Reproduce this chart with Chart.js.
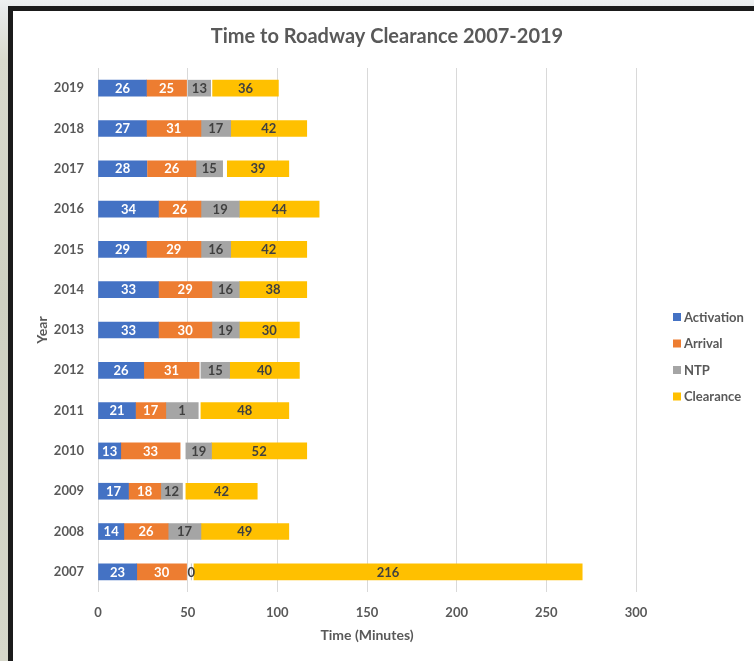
<!DOCTYPE html>
<html>
<head>
<meta charset="utf-8">
<script src="https://cdn.jsdelivr.net/npm/chart.js@4/dist/chart.umd.min.js"></script>
<style>
  html, body { margin: 0; padding: 0; }
  body {
    width: 754px; height: 661px; overflow: hidden; position: relative;
    background: linear-gradient(180deg, #eef0f1 0px, #e9ebec 8px, #d9dacd 60px, #cfd1c2 300px, #d6d7ca 661px);
  }
  #frame {
    position: absolute; left: 8px; top: 6px; width: 760px; height: 670px;
    border-left: 5px solid #1b1b1b; border-top: 5px solid #1b1b1b;
    background: #ffffff;
  }
  #wrap { position: absolute; left: 0; top: 0; width: 741px; height: 650px; }
</style>
</head>
<body>
<div id="frame"><div id="wrap"><canvas id="c" width="741" height="650"></canvas></div></div>
<script>
const years = ['2007','2008','2009','2010','2011','2012','2013','2014','2015','2016','2017','2018','2019'];

// bar extents [start, end] in minutes, as drawn in the picture
const activationBars = [[0,21.6],[0,14.4],[0,17],[0,12.7],[0,20.9],[0,25.5],[0,33.7],[0,33.7],[0,27],[0,33.7],[0,27.2],[0,27],[0,27]];
const arrivalBars = [[21.6,49.4],[14.4,39.1],[17,35],[12.7,45.8],[20.9,37.8],[25.5,56.4],[33.7,63.5],[33.7,63.5],[27,57.4],[33.7,57.4],[27.6,54.6],[27,57.4],[27,49.4]];
const ntpBars = [[52,52],[39.1,57.4],[35,47.1],[49,63.3],[37.8,55.9],[57.4,73.4],[63.5,78.8],[63.5,78.8],[57.4,74],[57.4,78.8],[54.6,69.5],[57.4,74],[50.3,62.8]];
const clearanceBars = [[53.5,270],[57.4,106.4],[49,88.8],[63.3,116.4],[57.4,106.4],[73.4,112.3],[78.8,112.3],[78.8,116.4],[74,116.4],[78.8,123.3],[72.1,106.4],[74,116.4],[63.9,100.6]];

// data labels shown on the bars
const activationLabels = [23,14,17,13,21,26,33,33,29,34,28,27,26];
const arrivalLabels = [30,26,18,33,17,31,30,29,29,26,26,31,25];
const ntpLabels = [0,17,12,19,1,15,19,16,16,19,15,17,13];
const clearanceLabels = [216,49,42,52,48,40,30,38,42,44,39,42,36];

const xTicks = [0,50,100,150,200,250,300];

const seriesNames = ['Activation','Arrival','NTP','Clearance'];
const colors = ['#4472C4','#ED7D31','#A5A5A5','#FFC000'];
const labelColors = ['#ffffff','#ffffff','#404040','#404040'];
const allLabels = [activationLabels, arrivalLabels, ntpLabels, clearanceLabels];
const allBars = [activationBars, arrivalBars, ntpBars, clearanceBars];

const FONT = 'Lato';
const TXT = '#595959';

const decor = {
  id: 'decor',
  afterDatasetsDraw(chart) {
    const ctx = chart.ctx;
    ctx.save();
    ctx.font = 'bold 13px ' + FONT;
    ctx.textAlign = 'center';
    ctx.textBaseline = 'middle';
    chart.data.datasets.forEach((ds, di) => {
      const meta = chart.getDatasetMeta(di);
      ctx.fillStyle = labelColors[di];
      meta.data.forEach((el, i) => {
        const cx = (el.x + el.base) / 2;
        ctx.fillText(String(allLabels[di][i]), cx, el.y + 0.5);
      });
    });
    ctx.restore();
  },
  afterDraw(chart) {
    const ctx = chart.ctx;
    const ca = chart.chartArea;
    ctx.save();
    ctx.fillStyle = TXT;
    ctx.font = 'bold 20px ' + FONT;
    ctx.textAlign = 'center';
    ctx.textBaseline = 'middle';
    ctx.fillText('Time to Roadway Clearance 2007-2019', 374, 26);
    ctx.font = 'bold 14px ' + FONT;
    ctx.fillText('Time (Minutes)', (ca.left + ca.right) / 2, 624);
    ctx.save();
    ctx.translate(29, 319);
    ctx.rotate(-Math.PI / 2);
    ctx.fillText('Year', 0, 0);
    ctx.restore();
    const ys = [306, 332.5, 359, 385.5];
    ctx.textAlign = 'left';
    ctx.font = 'bold 13px ' + FONT;
    seriesNames.forEach((n, i) => {
      ctx.fillStyle = colors[i];
      ctx.fillRect(660, ys[i] - 4, 8, 8);
      ctx.fillStyle = TXT;
      ctx.fillText(n, 671, ys[i] + 0.5);
    });
    ctx.restore();
  }
};

const datasets = seriesNames.map((n, i) => ({
  label: n,
  data: allBars[i],
  backgroundColor: colors[i],
  borderWidth: 0,
  barThickness: 16,
  grouped: false
}));

new Chart(document.getElementById('c'), {
  type: 'bar',
  data: { labels: years, datasets },
  options: {
    indexAxis: 'y',
    responsive: false,
    animation: false,
    layout: { padding: { top: 57, right: 118, left: 0, bottom: 0 } },
    plugins: { legend: { display: false }, title: { display: false }, tooltip: { enabled: false } },
    scales: {
      x: {
        min: 0, max: 300,
        afterBuildTicks(scale) { scale.ticks = xTicks.map(v => ({ value: v })); },
        afterFit(scale) { scale.height = 69; },
        grid: { color: '#d9d9d9', lineWidth: 1, drawTicks: false },
        border: { display: false },
        ticks: { padding: 13, color: TXT, font: { family: FONT, size: 13, weight: 'bold' } }
      },
      y: {
        reverse: true,
        afterFit(scale) { scale.width = 85; },
        grid: { display: false, drawTicks: false },
        border: { display: false },
        ticks: { padding: 14, color: TXT, font: { family: FONT, size: 13, weight: 'bold' } }
      }
    }
  },
  plugins: [decor]
});
</script>
</body>
</html>
